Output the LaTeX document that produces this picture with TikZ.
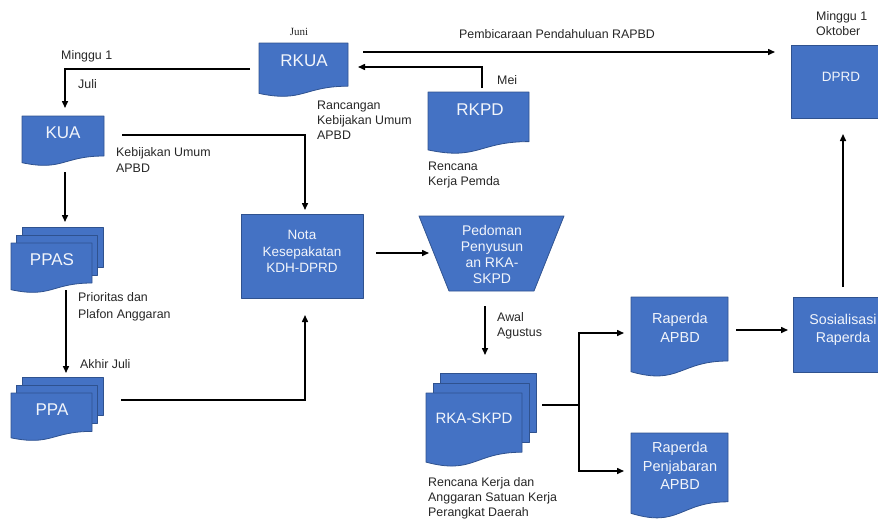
\documentclass[tikz,border=0pt]{standalone}
\usepackage{fontspec}
\setmainfont{Liberation Sans}
\newfontfamily\junifont{Liberation Serif}
\usetikzlibrary{arrows.meta,calc}
\definecolor{docblue}{HTML}{4472C4}
\definecolor{docedge}{HTML}{2F528F}
\definecolor{doctext}{HTML}{F2F5FB}
\definecolor{lbl}{HTML}{262626}
\tikzset{
 shp/.style={fill=docblue, draw=docedge, line width=0.8pt, line join=round},
 bbox/.style={inner sep=0pt, outer sep=0pt, draw=none, anchor=north west},
 intext/.style={text=doctext, align=center, inner sep=0pt},
 lab/.style={text=lbl, align=left, inner sep=0pt, font=\fontsize{12.4}{15}\selectfont},
 conn/.style={draw=black, line width=1.5pt, -{Triangle[length=7pt,width=6pt]}},
 plainline/.style={draw=black, line width=1.5pt},
}
\newcommand\docpath[4]{\filldraw[shp] (#1,#2) -- (#1+#3,#2) -- (#1+#3,#2+0.8*#4) .. controls (#1+0.5*#3,#2+0.8*#4) and (#1+0.5*#3,#2+1.107*#4) .. (#1,#2+0.934*#4) -- cycle;}
\newcommand\docshape[5]{\node[bbox, minimum width=#4pt, minimum height=#5pt] (#1) at (#2,#3) {};\docpath{#2}{#3}{#4}{#5}}
\newcommand\multidoc[7]{%
 \node[bbox, minimum width={(#4+2*#6)*1pt}, minimum height={(#5+2*#7)*1pt}] (#1) at (#2,#3) {};
 \filldraw[shp] (#2+2*#6,#3) rectangle (#2+2*#6+#4,#3+0.8*#5);
 \filldraw[shp] (#2+#6,#3+#7) rectangle (#2+#6+#4,#3+#7+0.8*#5);
 \docpath{#2}{#3+2*#7}{#4}{#5}}
\begin{document}
\begin{tikzpicture}[x=1pt,y=-1pt]
\useasboundingbox (0,0) rectangle (878,520);
\clip (0,0) rectangle (878,520);
% shapes
\docshape{rkua}{259}{43}{89}{54}
\docshape{kua}{22}{116}{82}{50}
\docshape{rkpd}{428}{92}{101}{62}
\multidoc{ppas}{11}{227}{81}{50}{5.5}{8}
\multidoc{ppa}{11}{377}{81}{48}{5.5}{8}
\multidoc{rka}{426}{373}{96}{74}{7}{10}
\docshape{rapbd}{631}{297}{97}{80}
\docshape{penj}{631}{433}{97}{86}
\node[bbox, shp, minimum width=122pt, minimum height=84pt] (nota) at (241,214) {};
\node[bbox, minimum width=145pt, minimum height=75pt] (trap) at (419,216) {};
\filldraw[shp] (419,216) -- (564,216) -- (534,291) -- (449,291) -- cycle;
\node[bbox, shp, minimum width=100pt, minimum height=73pt] (dprd) at (791,45) {};
\node[bbox, shp, minimum width=100pt, minimum height=75pt] (sos) at (793,297) {};
% texts in shapes
\node[intext, font=\fontsize{17}{20}\selectfont] (rkua-t) at (304,61) {RKUA};
\node[intext, font=\fontsize{17}{20}\selectfont] (kua-t) at (63,133) {KUA};
\node[intext, font=\fontsize{17}{20}\selectfont] (rkpd-t) at (480,110) {RKPD};
\node[intext, font=\fontsize{17}{20}\selectfont] (ppas-t) at (52,260) {PPAS};
\node[intext, font=\fontsize{17}{20}\selectfont] (ppa-t) at (52,410) {PPA};
\node[intext, font=\fontsize{15}{18}\selectfont] (rka-t) at (474,418) {RKA-SKPD};
\node[intext, font=\fontsize{13.5}{16.5}\selectfont] (nota-t) at (302,251.5) {Nota\\Kesepakatan\\KDH-DPRD};
\node[intext, font=\fontsize{14}{16}\selectfont] (trap-t) at (492,254) {Pedoman\\Penyusun\\an RKA-\\SKPD};
\node[intext, font=\fontsize{14.5}{18.5}\selectfont] (rapbd-t) at (680,327.5) {Raperda\\APBD};
\node[intext, font=\fontsize{14.5}{18.5}\selectfont] (penj-t) at (680,466) {Raperda\\Penjabaran\\APBD};
\node[intext, font=\fontsize{14.2}{17.5}\selectfont] (sos-t) at (843,330) {Sosialisasi\\Raperda};
\node[intext, font=\fontsize{13.5}{16}\selectfont] (dprd-t) at (841,77) {DPRD};
% connectors
\draw[conn] ($(rkua.west)+(-9,-1)$) -| ($(kua.north)+(2,-8)$);
\draw[conn] ($(kua.east)+(18,-6)$) -| ($(nota.north)+(3,-4)$);
\coordinate (c3a) at ($(kua.south)+(2,6)$);
\coordinate (c3b) at ($(ppas.north)+(8,-5)$);
\draw[conn] (c3a) -- (c3a |- c3b);
\coordinate (c4a) at ($(ppas.south)+(9,-3)$);
\coordinate (c4b) at ($(ppa.north)+(9,-4)$);
\draw[conn] (c4a) -- (c4a |- c4b);
\draw[conn] ($(ppa.east)+(18,-9)$) -| ($(nota.south)+(3,17)$);
\coordinate (c6a) at ($(nota.east)+(13,-3)$);
\coordinate (c6b) at ($(trap.west)+(10,0)$);
\draw[conn] (c6a) -- (c6a -| c6b);
\coordinate (c7a) at ($(trap.south)+(-6.5,15)$);
\coordinate (c7b) at ($(rka.north)+(0,-18)$);
\draw[conn] (c7a) -- (c7a |- c7b);
\coordinate (c8a) at ($(rka.east)+(6,-15)$);
\coordinate (split) at ($(rka.east)+(43,-15)$);
\draw[plainline] (c8a) -- (split);
\draw[conn] (split) |- ($(rapbd.west)+(-7,-4)$);
\draw[conn] (split) |- ($(penj.west)+(-7,-5)$);
\coordinate (c9a) at ($(rapbd.east)+(8,-7)$);
\coordinate (c9b) at ($(sos.west)+(-5,0)$);
\draw[conn] (c9a) -- (c9a -| c9b);
\coordinate (c10a) at ($(sos.north)+(0,-10)$);
\coordinate (c10b) at ($(dprd.south)+(0,16)$);
\draw[conn] (c10a) -- (c10a |- c10b);
\coordinate (c11a) at ($(rkua.east)+(15,-18)$);
\coordinate (c11b) at ($(dprd.west)+(-16,0)$);
\draw[conn] (c11a) -- (c11a -| c11b);
\draw[conn] ($(rkpd.north)+(3.5,-4)$) |- ($(rkua.east)+(10,-3)$);
% labels
\node[inner sep=0pt, text=lbl, font=\junifont\fontsize{11}{13}\selectfont] (l-juni) at (299,32) {Juni};
\node[lab, anchor=west] (l-minggu) at (61,56) {Minggu 1};
\node[lab, anchor=west] (l-juli) at (78,84) {Juli};
\node[lab, anchor=west] (l-rancangan) at (317,120) {Rancangan\\Kebijakan Umum\\APBD};
\node[lab, anchor=west, font=\fontsize{12.4}{16}\selectfont] (l-kebijakan) at (116,160) {Kebijakan Umum\\APBD};
\node[lab, anchor=west] (l-mei) at (497,80) {Mei};
\node[lab, anchor=west] (l-rencana) at (428,175.5) {Rencana\\Kerja Pemda};
\node[lab] (l-pembicaraan) at (557,34) {Pembicaraan Pendahuluan RAPBD};
\node[lab, anchor=west] (l-oktober) at (816,23.5) {Minggu 1\\Oktober};
\node[lab, anchor=west, font=\fontsize{12.4}{17}\selectfont] (l-prioritas) at (78,306.5) {Prioritas dan\\Plafon Anggaran};
\node[lab, anchor=west] (l-akhir) at (80,364) {Akhir Juli};
\node[lab, anchor=west] (l-awal) at (497,325.5) {Awal\\Agustus};
\node[lab, anchor=west] (l-rka) at (428,498) {Rencana Kerja dan\\Anggaran Satuan Kerja\\Perangkat Daerah};
\end{tikzpicture}
\end{document}
